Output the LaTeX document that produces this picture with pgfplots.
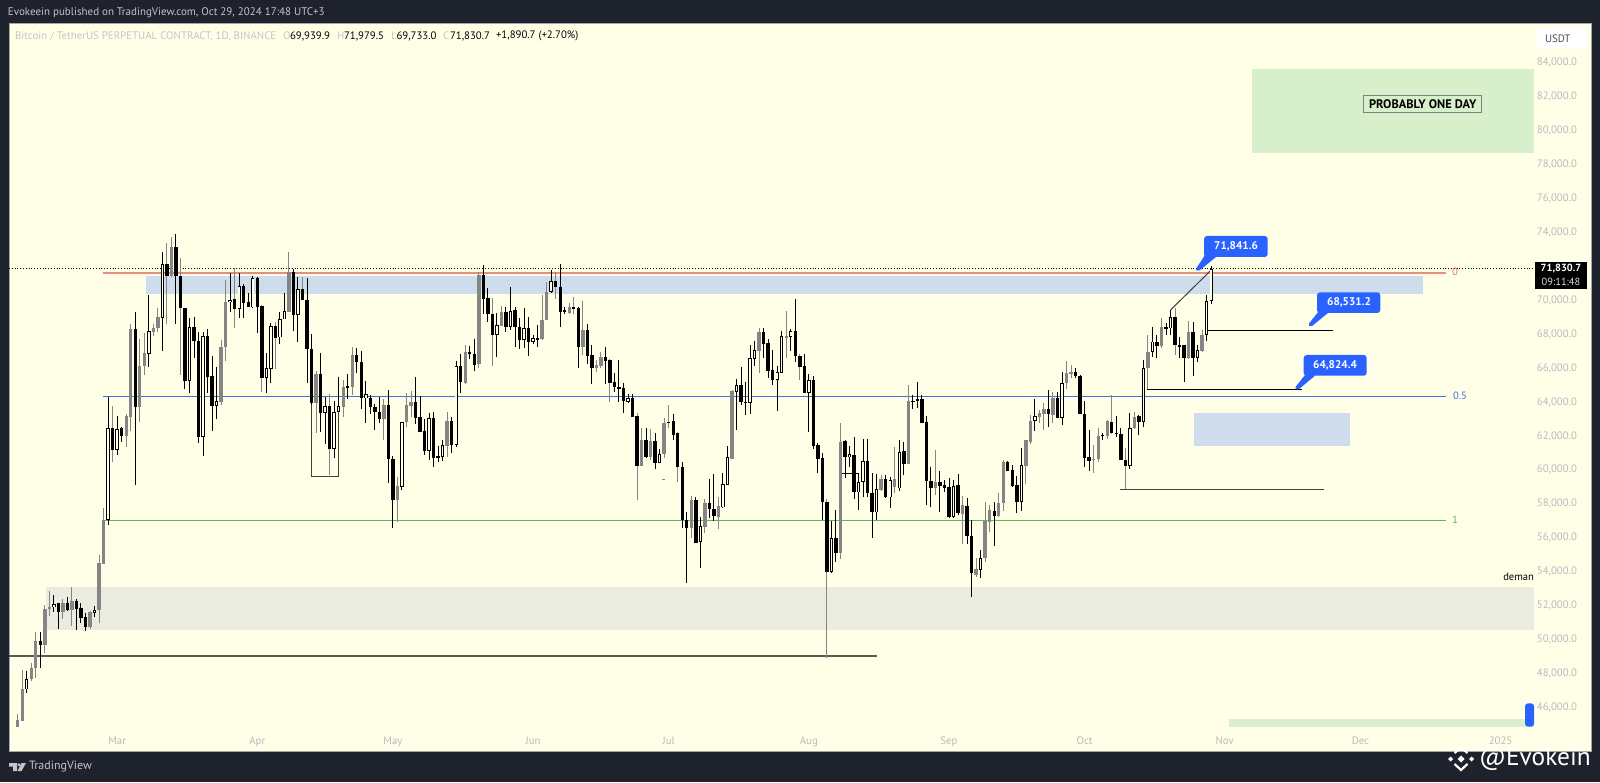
\documentclass[border=0pt]{standalone}
\usepackage{fontspec}
\setmainfont{PT Sans}
\usepackage{pgfplots}
\usepackage{pgfplotstable}
\pgfplotsset{compat=1.18}
\definecolor{outer}{HTML}{1E222D}
\definecolor{panel}{HTML}{FFFFE8}
\definecolor{gridgrey}{HTML}{B8BAC0}
\definecolor{boxgreen}{HTML}{D8EFCB}
\definecolor{boxblue}{HTML}{CEDCEB}
\definecolor{boxgrey}{HTML}{EAECDF}
\definecolor{fibred}{HTML}{E58D80}
\definecolor{fibblue}{HTML}{3F6FD8}
\definecolor{fibgreen}{HTML}{62B35E}
\definecolor{tvblue}{HTML}{2962FF}
\definecolor{cgrey}{HTML}{858585}
\definecolor{lgrey}{HTML}{C5C5C5}
\pgfplotstableread{
x h t b l k
0 45570 45210 44820 44820 2
1 48160 47020 45170 45170 2
2 48120 47630 47020 46830 1
3 48550 48260 47630 47530 2
4 50380 49850 48260 47670 2
5 50380 49850 49660 48260 0
6 52000 51740 49660 49180 2
7 52800 51860 51740 51350 2
8 52590 52060 51860 51560 1
9 52130 52090 51600 50580 0
10 52330 52130 51600 51170 2
11 52490 52130 51700 51640 0
12 53040 52210 51700 50780 2
13 52330 52210 51780 50520 0
14 52090 51820 51230 50910 0
15 51540 51270 50720 50480 0
16 51640 51560 50720 50560 2
17 51960 51700 51540 51270 1
18 54940 54450 51700 50910 2
19 57740 56990 54410 54410 2
20 64280 62450 56990 56710 1
21 63730 62450 61130 60450 3
22 63160 62390 61130 60840 1
23 62470 62410 61960 61630 0
24 63260 63140 61980 61290 2
25 68550 68270 63100 62270 2
26 69250 68270 63650 59070 0
27 67660 66090 63650 62810 2
28 68050 66840 66090 65560 2
29 70280 68150 66800 66050 1
30 68550 68350 68110 67880 2
31 69490 68960 68310 68110 2
32 72830 72090 68940 66990 1
33 73320 72090 71420 68570 3
34 73680 73090 71400 71360 2
35 73870 73090 71400 68570 0
36 72480 71400 69490 65560 3
37 69490 69490 65220 64710 0
38 68940 68410 65220 64520 1
39 68960 68410 67560 66580 0
40 68110 67580 61880 61570 0
41 68110 67860 61920 60780 1
42 68270 67860 65460 64520 0
43 66680 65500 63750 62270 0
44 66010 64010 63750 62960 1
45 67620 67230 63990 63790 2
46 71160 69840 67190 66380 2
47 71550 69980 69840 69290 1
48 71850 70020 69450 68310 3
49 71550 70790 69450 68900 1
50 70930 70790 69820 68940 0
51 70370 69840 69550 69550 0
52 71420 71260 69550 69530 1
53 71360 71280 69590 68050 0
54 69690 69650 65400 64560 3
55 66880 65950 65400 64480 1
56 68610 68450 65910 65110 1
57 68700 68450 67760 65910 3
58 69290 68860 67780 67390 1
59 70370 69330 68840 68840 1
60 72830 71610 69290 69290 2
61 71810 71610 69100 68150 0
62 71320 70630 69100 67480 1
63 71320 70610 69980 69980 3
64 71260 69980 67070 65110 0
65 67960 67070 63890 63790 0
66 65790 65600 63890 62120 2
67 66840 65600 63300 62180 0
68 64280 63730 63300 61490 1
69 64440 63730 61190 59640 3
70 64050 63360 61190 60640 1
71 65420 63730 63360 63360 1
72 65260 64870 63690 63060 2
73 65620 64900 64830 64140 0
74 67190 66720 64870 64380 2
75 67130 66720 66300 65700 0
76 66990 66350 64180 63530 0
77 65230 64420 64180 62710 1
78 64380 64220 63690 63260 0
79 63850 63690 63360 62310 0
80 64280 63360 62960 62710 0
81 64120 63790 62960 61720 2
82 64670 63790 60580 59170 0
83 60780 60620 58190 56510 0
84 59560 59010 58190 56910 2
85 62810 62810 58970 58780 1
86 64480 63790 62810 62470 2
87 64630 63950 63750 63100 2
88 65420 63950 63040 62650 0
89 64340 63060 62220 62180 0
90 62940 62260 61100 60840 0
91 63300 63000 61100 60550 1
92 63360 63000 60680 60110 0
93 61390 60760 60710 60450 0
94 61720 61430 60740 60490 1
95 63360 62870 61390 60740 2
96 63060 62870 61430 60940 0
97 66400 66090 61450 61290 1
98 66800 66090 65130 64520 0
99 67330 66930 65110 65030 2
100 67270 66900 66800 66480 0
101 67680 66800 66150 65810 0
102 71610 71460 66190 65950 2
103 72050 71460 70040 69160 0
104 70670 70100 69160 68700 0
105 70080 69160 67920 66110 3
106 69230 68490 67920 66640 1
107 69630 69250 68470 68470 2
108 69550 69270 68410 68110 0
109 70730 69350 68410 68210 1
110 69590 69390 68370 67230 0
111 68900 68410 67620 67090 0
112 69530 68350 67620 67130 1
113 69000 68350 67520 66700 0
114 67920 67720 67520 67390 1
115 68510 67720 67680 67230 0
116 70280 68800 67680 67620 2
117 71060 70470 68800 68800 2
118 71750 71080 70470 70370 1
119 71650 71080 70770 70040 3
120 72100 70770 69290 68370 0
121 69590 69370 69330 69160 0
122 69790 69590 69200 69160 2
123 70140 69590 69490 69160 3
124 69590 69490 67230 65950 0
125 69940 68210 67230 66740 2
126 68570 68210 66700 66190 0
127 67330 66740 65950 65030 0
128 66440 66130 65990 65760 2
129 66900 66600 66090 65950 2
130 67230 66600 66380 65030 0
131 66500 66440 65110 63950 3
132 65660 65130 64830 64580 0
133 66440 64850 64790 63950 0
134 65070 64810 64040 63340 0
135 64440 64180 63990 63890 1
136 64440 64200 63100 63100 0
137 63300 63140 60210 58190 3
138 62410 61710 60210 60210 2
139 62410 61710 60740 60640 0
140 62370 61650 60740 60550 2
141 62120 61650 60390 60000 0
142 61170 60900 60390 60350 1
143 63000 62750 60900 60640 2
144 63790 62810 62710 62450 3
145 63240 62830 62020 61730 0
146 62220 62120 60110 59270 3
147 60450 60130 57010 56510 0
148 57500 57010 56510 53270 0
149 58440 58190 56510 55930 2
150 58340 58190 55670 55630 0
151 57200 56670 55730 54160 1
152 58230 57990 56610 56220 2
153 59420 57990 57640 57100 0
154 59720 57680 57240 56970 0
155 58380 57830 57200 56460 2
156 59760 59130 57750 57700 1
157 61370 60700 59090 59090 1
158 64670 64620 60600 60600 2
159 65320 64970 64580 62310 1
160 66050 64970 63950 63790 0
161 65130 63990 63890 63200 0
162 67330 66540 63890 63240 1
163 67580 67030 66520 66090 1
164 68310 68110 66990 65700 2
165 68310 68110 67390 66540 0
166 67680 67430 65815 65400 0
167 67030 65850 65260 64970 0
168 66090 65730 65260 63450 1
169 68170 67860 65700 65660 1
170 69330 67840 67820 66580 2
171 68250 68130 67820 66990 1
172 70060 68130 66700 66350 0
173 66800 66700 66050 65260 3
174 66780 66090 64520 64520 0
175 65600 65260 64520 62220 1
176 65520 65260 61390 61200 0
177 61530 61430 60600 59760 0
178 60990 60640 58050 57010 0
179 58250 58070 53960 48850 3
180 56950 55920 53960 53900 1
181 57600 55920 55040 54550 0
182 62710 61630 55040 54690 2
183 61730 61670 60740 59500 0
184 61370 60880 60740 60150 1
185 61920 60840 58640 58230 0
186 59760 59270 58640 57600 1
187 61770 60490 59270 58340 1
188 61770 60490 58580 58340 0
189 59760 58580 57460 55960 0
190 59720 58820 57460 57010 1
191 59660 59430 58780 58740 2
192 59660 59430 58340 58320 0
193 59560 59370 58340 57700 1
194 61330 59400 58930 58580 2
195 61730 61040 58875 58740 1
196 61630 61080 60310 59660 0
197 64970 64030 60290 60290 2
198 64380 64050 63990 63530 0
199 65130 64140 64050 63590 1
200 64380 64140 62750 62750 0
201 63140 62770 59310 57890 0
202 60110 59310 58910 57790 0
203 61140 59270 58910 58480 2
204 59920 59270 59010 57500 0
205 59370 59070 58875 58680 0
206 59460 58930 57160 57100 0
207 59370 59030 57200 57100 1
208 59720 59070 57400 57300 0
209 58440 57890 57360 55590 2
210 58280 57850 56060 55590 0
211 57010 56080 53860 52450 0
212 54750 54100 53760 53660 2
213 55240 54790 54060 53610 1
214 58090 56970 54750 54550 2
215 57890 57600 56910 56320 2
216 58090 57560 57240 55500 0
217 58580 57990 57240 57200 2
218 60550 60450 58030 57560 2
219 60490 60450 59920 59900 0
220 60250 59960 59010 58970 0
221 59600 59070 58090 57440 0
222 61270 60250 58090 57560 1
223 61730 61710 60210 59110 2
224 63200 62870 61630 61490 2
225 64120 63140 62830 62280 1
226 63490 63300 63100 62710 2
227 63930 63530 63260 62310 2
228 64670 63530 63260 62510 0
229 64580 64200 63220 62710 2
230 64580 64200 63040 63000 0
231 65720 65070 63040 62610 1
232 66400 65680 65070 64730 2
233 66150 65760 65620 65360 2
234 65990 65760 65500 65360 0
235 65560 65520 63240 63240 0
236 64050 63260 60640 60110 0
237 62320 60700 60510 59900 0
238 61410 60620 60550 59800 2
239 62410 61980 60600 60450 2
240 62120 62020 61980 61730 0
241 62900 62830 61980 61770 2
242 64400 62770 62120 62080 3
243 63140 62160 62080 61920 0
244 62410 62080 60550 60550 0
245 61230 60550 60190 58820 3
246 63300 62450 60190 59995 1
247 63400 63100 62410 62350 2
248 63200 63140 62770 62020 0
249 66440 65990 62790 62510 1
250 67920 66940 65990 64710 2
251 68370 67530 66940 66640 1
252 67920 67530 67290 66540 0
253 68900 68370 67290 67130 2
254 68610 68370 68310 67920 0
255 69390 68960 68310 67920 1
256 69490 68960 67330 66740 3
257 67780 67290 67270 66540 0
258 67330 67330 66540 65170 0
259 68760 68080 66540 66480 2
260 68700 68080 66580 65500 0
261 67330 67030 66580 66350 1
262 68210 67940 66990 66940 2
263 70280 69900 67940 67560 1
264 71979.5 71830.7 69939.9 69733 1
}\candles
\newcommand\fs[1]{\fontsize{#1}{#1}\selectfont}
% k, wick colour, body colour
\newcommand\candlegroup[3]{%
  \addplot[forget plot,draw=none,no markers,error bars/.cd,y dir=both,y explicit,error mark=none,
    error bar style={line width=.5pt,draw=#2}]
    table[x expr={\thisrow{k}==#1?\thisrow{x}:nan},y expr={(\thisrow{h}+\thisrow{l})/2},y error expr={(\thisrow{h}-\thisrow{l})/2}]{\candles};
  \addplot[forget plot,draw=none,no markers,error bars/.cd,y dir=both,y explicit,error mark=none,
    error bar style={line width=1.7pt,draw=#3}]
    table[x expr={\thisrow{k}==#1?\thisrow{x}:nan},y expr={(\thisrow{t}+\thisrow{b})/2},y error expr={max((\thisrow{t}-\thisrow{b})/2,30)}]{\candles};
}
\begin{document}
\begin{tikzpicture}
\begin{scope}[x=0.5pt,y=-0.5pt,shift={(0pt,391pt)}]
\useasboundingbox (0,0) rectangle (1600,782);
\fill[outer] (0,0) rectangle (1600,782);
\fill[panel,draw=gray!70,line width=.5pt] (9,24) rectangle (1591,751);
\end{scope}
\begin{axis}[at={(4.5pt,27.5pt)},anchor=south west,scale only axis,width=762.5pt,height=351.5pt,
  xmin=-1.924,xmax=335.4,ymin=44803,ymax=86259,clip=false,
  axis line style={draw=none},tick style={draw=none},
  xtick={22,53,83,114,144,175,206,236,267,297,328},
  xticklabels={Mar,Apr,May,Jun,Jul,Aug,Sep,Oct,Nov,Dec,2025},
  xticklabel style={font=\fs{5.4pt},text=gridgrey,yshift=-1.2pt},
  ytick={46000,48000,50000,52000,54000,56000,58000,60000,62000,64000,66000,68000,70000,74000,76000,78000,80000,82000,84000},
  yticklabel pos=right,
  yticklabel style={font=\fs{5.4pt},text=gridgrey,anchor=east,xshift=25pt,yshift=-.3pt,
    /pgf/number format/.cd,fixed,fixed zerofill,precision=1,1000 sep={,},assume math mode=true},
  scaled y ticks=false]
% zones
\addplot[forget plot,fill=boxgreen,draw=none] coordinates {(273,83590)(335.4,83590)(335.4,78670)(273,78670)} --cycle;
\addplot[forget plot,fill=boxblue,draw=none] coordinates {(28.3,71416)(310.8,71416)(310.8,70336)(28.3,70336)} --cycle;
\addplot[forget plot,fill=boxblue,draw=none] coordinates {(260.2,63302)(294.8,63302)(294.8,61391)(260.2,61391)} --cycle;
\addplot[forget plot,fill=boxgrey,draw=none] coordinates {(6.26,53041)(335.4,53041)(335.4,50523)(6.26,50523)} --cycle;
\addplot[forget plot,fill=boxgreen,draw=none] coordinates {(268,45256)(335.4,45256)(335.4,44820)(268,44820)} --cycle;
% levels
\addplot[forget plot,draw=fibred,line width=.9pt] coordinates {(18.87,71593)(315.9,71593)};
\addplot[forget plot,draw=fibblue,line width=.5pt] coordinates {(18.87,64304)(315.9,64304)};
\addplot[forget plot,draw=fibgreen,line width=.5pt] coordinates {(18.87,56992)(315.9,56992)};
\addplot[forget plot,draw=black,line width=.4pt,densely dotted] coordinates {(-1.92,71830.7)(335.4,71830.7)};
% drawings
\addplot[forget plot,draw=black!65,line width=.6pt] coordinates {(-1.92,48990)(190,48990)};
\addplot[forget plot,draw=black!75,line width=.6pt] coordinates {(243.8,58820)(288.9,58820)};
\addplot[forget plot,draw=black,line width=.5pt] coordinates {(263,68172)(290.9,68172)};
\addplot[forget plot,draw=black,line width=.5pt] coordinates {(249.9,64717)(284,64717)};
\addplot[forget plot,draw=black!75,line width=.5pt] coordinates {(64.9,63890)(64.9,59600)(71,59600)(71,63360)};
\addplot[forget plot,draw=black!75,line width=.5pt] coordinates {(255,69393)(264,71752)};
\addplot[forget plot,draw=black,line width=.4pt] coordinates {(182.3,59760)(185.9,59760)};
\addplot[forget plot,draw=cgrey,line width=.4pt] coordinates {(142.5,59400)(143.2,59400)};
% candles
\candlegroup{0}{black}{black}
\candlegroup{2}{cgrey}{cgrey}
\candlegroup{3}{cgrey}{black}
\candlegroup{1}{black}{black}
\addplot[forget plot,draw=none,no markers,error bars/.cd,y dir=both,y explicit,error mark=none,
  error bar style={line width=.75pt,draw=panel}]
  table[x expr={\thisrow{k}==1?\thisrow{x}:nan},y expr={(\thisrow{t}+\thisrow{b})/2},y error expr={max((\thisrow{t}-\thisrow{b})/2-50,0)}]{\candles};
\end{axis}
\begin{scope}[x=0.5pt,y=-0.5pt,shift={(0pt,391pt)},every node/.style={inner sep=0pt,outer sep=0pt}]
% header
\node[anchor=west,text=lgrey] at (8,13) {\fs{5.5pt}Evokeein published on TradingView.com, Oct 29, 2024 17:48 UTC+3};
\node[anchor=west,text=lgrey] at (15,36) {\fs{5.45pt}Bitcoin / TetherUS PERPETUAL CONTRACT, 1D, BINANCE};
\node[anchor=west,text=lgrey] at (283,36) {\fs{5.4pt}O};
\node[anchor=west] at (290,36) {\fs{5.4pt}69,939.9};
\node[anchor=west,text=lgrey] at (337,36) {\fs{5.4pt}H};
\node[anchor=west] at (344,36) {\fs{5.4pt}71,979.5};
\node[anchor=west,text=lgrey] at (391,36) {\fs{5.4pt}L};
\node[anchor=west] at (396.5,36) {\fs{5.4pt}69,733.0};
\node[anchor=west,text=lgrey] at (443,36) {\fs{5.4pt}C};
\node[anchor=west] at (450,36) {\fs{5.4pt}71,830.7};
\node[anchor=west] at (496,36) {\fs{5.4pt}+1,890.7 (+2.70\%)};
% USDT
\fill[white,rounded corners=1.5pt] (1537,27) rectangle (1587,49);
\node[anchor=west,text=black!70] at (1545,39) {\fs{5.4pt}USDT};
% price box
\fill[black] (1535,262.3) rectangle (1587,288.7);
\node[text=white,font=\bfseries] at (1561,268.8) {\fs{5.2pt}71,830.7};
\node[text=white!85!black] at (1561,281.5) {\fs{5.2pt}09:11:48};
% level labels
\node[text=fibred!80!red] at (1455,272) {\fs{5.3pt}0};
\node[text=fibblue] at (1460,396) {\fs{5.3pt}0.5};
\node[text=fibgreen] at (1455,520) {\fs{5.3pt}1};
\node[anchor=east] at (1534,577) {\fs{5.3pt}deman};
% probably
\node[draw=gray,line width=.4pt,minimum width=59pt,minimum height=8.7pt,anchor=south west,font=\bfseries] at (1363.7,112.7) {\fs{6.2pt}PROBABLY ONE DAY};
% callouts
\fill[tvblue,rounded corners=1.5pt] (1204,236) rectangle (1267.7,257);
\fill[tvblue] (1196.5,268) -- (1196,270.5) -- (1199.5,270.5) -- (1216,257) -- (1205,255) -- cycle;
\node[text=white,font=\bfseries] at (1236,246.5) {\fs{5.6pt}71,841.6};
\fill[tvblue,rounded corners=1.5pt] (1317,292.3) rectangle (1380.3,313);
\fill[tvblue] (1309,323.5) -- (1309,326) -- (1312,326) -- (1328,313) -- (1319,311) -- cycle;
\node[text=white,font=\bfseries] at (1349,302.5) {\fs{5.6pt}68,531.2};
\fill[tvblue,rounded corners=1.5pt] (1303.7,355) rectangle (1366.7,375.7);
\fill[tvblue] (1295.5,387) -- (1295.5,389.5) -- (1298.5,389.5) -- (1315,375.7) -- (1306,373.7) -- cycle;
\node[text=white,font=\bfseries] at (1335,365.5) {\fs{5.6pt}64,824.4};
% handle
\fill[tvblue,rounded corners=1.5pt] (1525,703.3) rectangle (1534,726.7);
% footer logo
\fill[lgrey] (9,763) -- (17,763) -- (17,771) -- (13,771) -- (13,766.5) -- (9,766.5) -- cycle;
\fill[lgrey] (19,764.7) circle (1.7);
\fill[lgrey] (21.5,763) -- (26,763) -- (21.5,771) -- (17.5,771) -- cycle;
\node[anchor=west,text=lgrey] at (29,767) {\fs{6pt}TradingView};
% watermark
\fill[white] (1461,755.5) -- (1464.5,759) -- (1461,762.5) -- (1457.5,759) -- cycle;
\fill[white] (1450.5,756.5) -- (1453,759) -- (1450.5,761.5) -- (1448,759) -- cycle;
\fill[white] (1471.5,756.5) -- (1474,759) -- (1471.5,761.5) -- (1469,759) -- cycle;
\draw[white,line width=1.1pt] (1454.5,753) -- (1461,747.5) -- (1467.5,753);
\draw[white,line width=1.1pt] (1454.5,764) -- (1461,770) -- (1467.5,764);
\node[anchor=west,text=white] at (1479,758.5) {\fs{12.7pt}@Evokein};
\end{scope}
\end{tikzpicture}
\end{document}
